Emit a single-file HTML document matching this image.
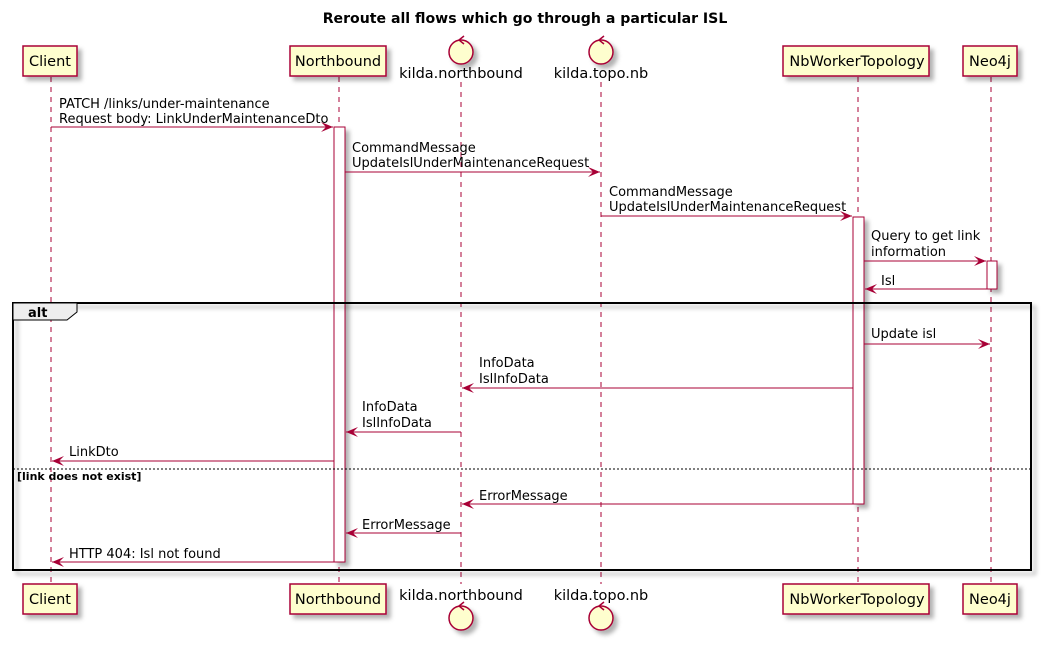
<!DOCTYPE html>
<html><head><meta charset="utf-8"><style>
html,body{margin:0;padding:0;background:#fff;}
svg text{font-family:"DejaVu Sans","Liberation Sans",sans-serif;font-size:13px;fill:#000;}
</style></head><body>
<svg width="1042" height="641" xmlns="http://www.w3.org/2000/svg">
<defs>
<filter id="sh" x="-20%" y="-20%" width="150%" height="150%"><feDropShadow dx="4" dy="4" stdDeviation="2" flood-color="#000" flood-opacity="0.3"/></filter>
<marker id="ar" markerWidth="14" markerHeight="12" refX="12" refY="6" orient="auto" markerUnits="userSpaceOnUse"><path d="M0,1 L12,6 L0,11 L5,6 Z" fill="#A80036"/></marker>
</defs>
<text x="525" y="23" text-anchor="middle" style="font-weight:bold;font-size:14.1px">Reroute all flows which go through a particular ISL</text>

<g stroke="#A80036" stroke-dasharray="5,5" stroke-width="1">
<line x1="51" y1="77" x2="51" y2="584"/>
<line x1="339" y1="77" x2="339" y2="584"/>
<line x1="461" y1="82" x2="461" y2="584"/>
<line x1="601" y1="82" x2="601" y2="584"/>
<line x1="858" y1="77" x2="858" y2="584"/>
<line x1="991" y1="77" x2="991" y2="584"/>
</g>

<g fill="#FEFECE" stroke="#A80036" stroke-width="1.5" filter="url(#sh)">
<rect x="23" y="46" width="54" height="30"/>
<rect x="290" y="46" width="96" height="30"/>
<rect x="783" y="46" width="146" height="30"/>
<rect x="963" y="46" width="54" height="30"/>
<rect x="23" y="584" width="54" height="30"/>
<rect x="290" y="584" width="96" height="30"/>
<rect x="783" y="584" width="146" height="30"/>
<rect x="963" y="584" width="54" height="30"/>
<circle cx="461" cy="52" r="12"/>
<circle cx="601" cy="52" r="12"/>
<circle cx="461" cy="618" r="12"/>
<circle cx="601" cy="618" r="12"/>
</g>
<g stroke="#A80036" stroke-width="1.5" fill="none">
<path d="M464,36 L459,40 L464,44"/>
<path d="M604,36 L599,40 L604,44"/>
<path d="M464,602 L459,606 L464,610"/>
<path d="M604,602 L599,606 L604,610"/>
</g>
<g>
<text x="50" y="66" text-anchor="middle" style="font-size:14.5px">Client</text>
<text x="338" y="66" text-anchor="middle" style="font-size:14.5px">Northbound</text>
<text x="857" y="66" text-anchor="middle" style="font-size:14.5px">NbWorkerTopology</text>
<text x="990" y="66" text-anchor="middle" style="font-size:14.5px">Neo4j</text>
<text x="50" y="604" text-anchor="middle" style="font-size:14.5px">Client</text>
<text x="338" y="604" text-anchor="middle" style="font-size:14.5px">Northbound</text>
<text x="857" y="604" text-anchor="middle" style="font-size:14.5px">NbWorkerTopology</text>
<text x="990" y="604" text-anchor="middle" style="font-size:14.5px">Neo4j</text>
<text x="461" y="78" text-anchor="middle" style="font-size:14.5px">kilda.northbound</text>
<text x="601" y="78" text-anchor="middle" style="font-size:14.5px">kilda.topo.nb</text>
<text x="461" y="600" text-anchor="middle" style="font-size:14.5px">kilda.northbound</text>
<text x="601" y="600" text-anchor="middle" style="font-size:14.5px">kilda.topo.nb</text>
</g>

<g fill="#fff" stroke="#A80036" stroke-width="1" filter="url(#sh)">
<rect x="334" y="127" width="11" height="435"/>
<rect x="853" y="217" width="11" height="287"/>
<rect x="987" y="261" width="10" height="28"/>
</g>

<rect x="13" y="303" width="1018" height="267" fill="none" stroke="#000" stroke-width="2" filter="url(#sh)"/>
<path d="M13,303 L77,303 L77,312 L67,320 L13,320 Z" fill="#EEEEEE" stroke="#000" stroke-width="1"/>
<text x="28" y="317" style="font-weight:bold">alt</text>
<line x1="13" y1="469" x2="1031" y2="469" stroke="#000" stroke-dasharray="2,2" stroke-width="1"/>
<text x="17" y="480" style="font-weight:bold;font-size:11px">[link does not exist]</text>

<g stroke="#A80036" stroke-width="1" marker-end="url(#ar)">
<line x1="51" y1="127" x2="333" y2="127"/>
<line x1="345" y1="172" x2="600" y2="172"/>
<line x1="601" y1="216" x2="852" y2="216"/>
<line x1="864" y1="261" x2="986" y2="261"/>
<line x1="987" y1="289" x2="865" y2="289"/>
<line x1="864" y1="344" x2="990" y2="344"/>
<line x1="853" y1="388" x2="462" y2="388"/>
<line x1="461" y1="432" x2="346" y2="432"/>
<line x1="334" y1="461" x2="52" y2="461"/>
<line x1="853" y1="504" x2="462" y2="504"/>
<line x1="461" y1="533" x2="346" y2="533"/>
<line x1="334" y1="562" x2="52" y2="562"/>
</g>
<text x="59" y="108">PATCH /links/under-maintenance</text>
<text x="59" y="123">Request body: LinkUnderMaintenanceDto</text>
<text x="352" y="152">CommandMessage</text>
<text x="352" y="167">UpdateIslUnderMaintenanceRequest</text>
<text x="609" y="196">CommandMessage</text>
<text x="609" y="211">UpdateIslUnderMaintenanceRequest</text>
<text x="871" y="240">Query to get link</text>
<text x="871" y="256">information</text>
<text x="881" y="285">Isl</text>
<text x="871" y="338">Update isl</text>
<text x="479" y="367">InfoData</text>
<text x="479" y="383">IslInfoData</text>
<text x="362" y="411">InfoData</text>
<text x="362" y="427">IslInfoData</text>
<text x="69" y="456">LinkDto</text>
<text x="479" y="500">ErrorMessage</text>
<text x="362" y="529">ErrorMessage</text>
<text x="69" y="558">HTTP 404: Isl not found</text>
</svg>
</body></html>
